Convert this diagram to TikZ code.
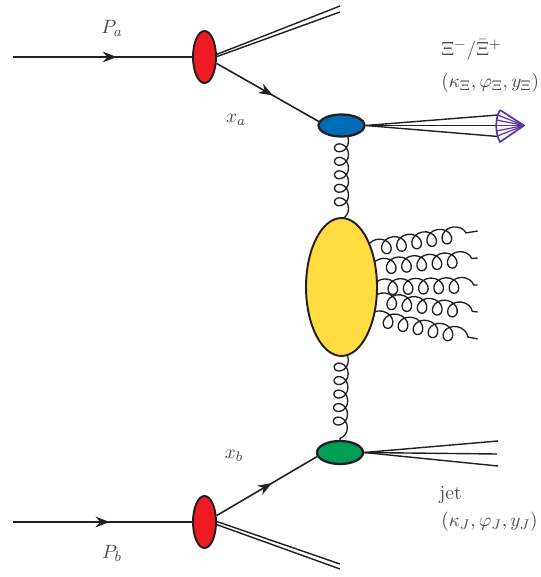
\documentclass[tikz,border=0pt]{standalone}
\usepackage{tikz}
\usetikzlibrary{arrows.meta,positioning,calc,backgrounds,shapes.geometric,decorations.pathmorphing,decorations.markings}
\definecolor{BlobRed}{RGB}{237,28,36}
\definecolor{BlobBlue}{RGB}{0,107,182}
\definecolor{BlobGreen}{RGB}{0,158,84}
\definecolor{BlobYellow}{RGB}{255,221,64}
\definecolor{ConePurple}{RGB}{92,56,160}
\definecolor{Ink}{RGB}{35,31,32}
\definecolor{LabelInk}{RGB}{70,70,70}
\tikzset{
  >=Stealth,
  blob/.style={ellipse,draw=Ink,line width=1.1pt,inner sep=0pt},
  beam/.style={draw=Ink,line width=1.2pt},
  spect/.style={draw=Ink,line width=.9pt},
  track/.style={draw=Ink,line width=.8pt},
  midarrow/.style={postaction={decorate},decoration={markings,mark=at position #1 with {\arrow{Stealth[length=8pt,width=6pt]}}}},
  gluon/.style={draw=Ink,line width=.75pt,decorate,decoration={coil,aspect=1,amplitude=4pt,segment length=13.5*.02cm}},
  softgluon/.style={gluon,decoration={coil,aspect=1.05,amplitude=4.5pt,segment length=15.3*.02cm}},
  cone/.style={draw=ConePurple,line width=1pt,line join=round},
  label/.style={font=\fontsize{11.4}{13}\selectfont,text=LabelInk,inner sep=0pt}
}
\begin{document}
\begin{tikzpicture}[x=.02cm,y=-.02cm]
  \useasboundingbox (0,0) rectangle (540,577);
  % blobs
  \node[blob,fill=BlobYellow,minimum width=1.42cm,minimum height=2.76cm] (hard) at (341.5,287) {};
  \node[blob,fill=BlobBlue,line width=1.3pt,minimum width=.92cm,minimum height=.44cm] (fragA) at (341.5,125.5) {};
  \node[blob,fill=BlobGreen,line width=1.3pt,minimum width=.92cm,minimum height=.46cm] (fragB) at (340,452.5) {};
  \node[blob,fill=BlobRed,minimum width=.46cm,minimum height=1.04cm] (protonA) at (204.5,57) {};
  \node[blob,fill=BlobRed,minimum width=.46cm,minimum height=1.04cm] (protonB) at (204.5,522) {};
  % free ends
  \coordinate (inA) at (13,57);
  \coordinate (inB) at (13,522);
  \coordinate (remA1) at (340,6);
  \coordinate (remA2) at (340,12);
  \coordinate (remB1) at (340,564);
  \coordinate (remB2) at (340,569);
  \coordinate (jet1) at (498,441);
  \coordinate (jet2) at (497,454);
  \coordinate (jet3) at (498,466);
  \coordinate (cone1) at (498,115);
  \coordinate (cone2) at (497,125.5);
  \coordinate (cone3) at (498,136.5);
  \coordinate (coneTop) at (500,110);
  \coordinate (coneBot) at (500,142);
  \coordinate (coneTip) at (524,125.5);
  \coordinate (glu1) at (477.7,231);
  \coordinate (glu2) at (477.7,258);
  \coordinate (glu3) at (477.7,285);
  \coordinate (glu4) at (477.7,312);
  \coordinate (glu5) at (477.7,339);
  % beams
  \draw[beam,midarrow=.58] (inA)--(protonA.west);
  \draw[beam,midarrow=.54] (inB)--(protonB.west);
  \draw[spect,midarrow=.55] (protonA.-28)--(fragA.170);
  \draw[spect,midarrow=.55] (protonB.28)--(fragB.-170);
  \draw[track] (protonA.12)--(remA1);
  \draw[track] (protonA.2)--(remA2);
  \draw[track] (protonB.2)--(remB1);
  \draw[track] (protonB.-12)--(remB2);
  % outgoing tracks
  \draw[track] (fragA.east)--(cone1);
  \draw[track] (fragA.east)--(cone2);
  \draw[track] (fragA.east)--(cone3);
  \draw[track] (fragB.east)--(jet1);
  \draw[track] (fragB.east)--(jet2);
  \draw[track] (fragB.east)--(jet3);
  % gluons
  \begin{scope}[on background layer]
    \draw[gluon] ($(fragA.south)+(0,-7)$)--($(hard.north)+(0,7)$);
    \draw[gluon] ($(hard.south)+(0,-7)$)--($(fragB.north)+(0,7)$);
    \foreach \a/\e in {52/glu1,30/glu2,0/glu3,-20/glu4,-43/glu5}
      \draw[softgluon] ($(\e)!1.05!(hard.\a)$)--(\e);
  \end{scope}
  % hadron cone
  \draw[cone] (coneTop)--(coneTip)--(coneBot) .. controls (495,133) and (495,118) .. (coneTop);
  \foreach \p in {(497.6,115),(496.6,120),(496.2,125.5),(496.6,131),(497.6,136)}
    \draw[cone,line width=.7pt] \p--(coneTip);
  % labels
  \node[label] (pa) at (112,28) {$P_a$};
  \node[label] (pb) at (112,553) {$P_b$};
  \node[label] (xa) at (236,120) {$x_a$};
  \node[label] (xb) at (234,456) {$x_b$};
  \node[label,anchor=west] (xi) at (441,50) {$\Xi^-/\bar{\Xi}^+$};
  \node[label,anchor=west] (xikin) at (441,83) {$(\kappa_\Xi,\varphi_\Xi,y_\Xi)$};
  \node[label,anchor=west] (jet) at (439,495) {jet};
  \node[label,anchor=west] (jetkin) at (441,522) {$(\kappa_J,\varphi_J,y_J)$};
\end{tikzpicture}
\end{document}
